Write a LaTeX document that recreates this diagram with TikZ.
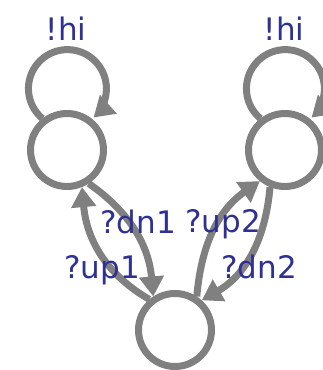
\documentclass[tikz,border=0pt]{standalone}
\usepackage{fontspec}
\setmainfont{DejaVu Sans}
\usetikzlibrary{arrows.meta}
\definecolor{edgegray}{RGB}{128,128,128}
\definecolor{lblblue}{RGB}{46,49,146}
\begin{document}
\begin{tikzpicture}[x=1pt,y=1pt,
  state/.style={circle,draw=edgegray,line width=7pt,minimum size=73pt,inner sep=0pt},
  trans/.style={draw=edgegray,line width=7pt,-{Triangle[length=20pt,width=24pt]}},
  lbl/.style={text=lblblue,font=\fontsize{31}{31}\selectfont,inner sep=0pt,anchor=base}]
\useasboundingbox (0,0) rectangle (323,-370);
\node[state] (L) at (67,-150) {};
\node[state] (R) at (285,-150) {};
\node[state] (B) at (175,-330) {};
\draw[trans] (L.128) arc[start angle=230,end angle=-48,radius=39];
\draw[trans] (R.128) arc[start angle=230,end angle=-48,radius=39];
\draw[trans] (B.130) to[out=150,in=-85] (L.-68);
\draw[trans] (L.-57) to[out=-35,in=95] (B.123);
\draw[trans] (B.57) to[out=85,in=215] (R.-129);
\draw[trans] (R.-112) to[out=-95,in=30] (B.48);
\node[lbl] (hiL) at (66,-40) {!hi};
\node[lbl] (hiR) at (284,-40) {!hi};
\node[lbl] (dn1) at (138,-233) {?dn1};
\node[lbl] (up2) at (223,-232) {?up2};
\node[lbl] (up1) at (102,-278) {?up1};
\node[lbl] (dn2) at (259,-278) {?dn2};
\end{tikzpicture}
\end{document}
